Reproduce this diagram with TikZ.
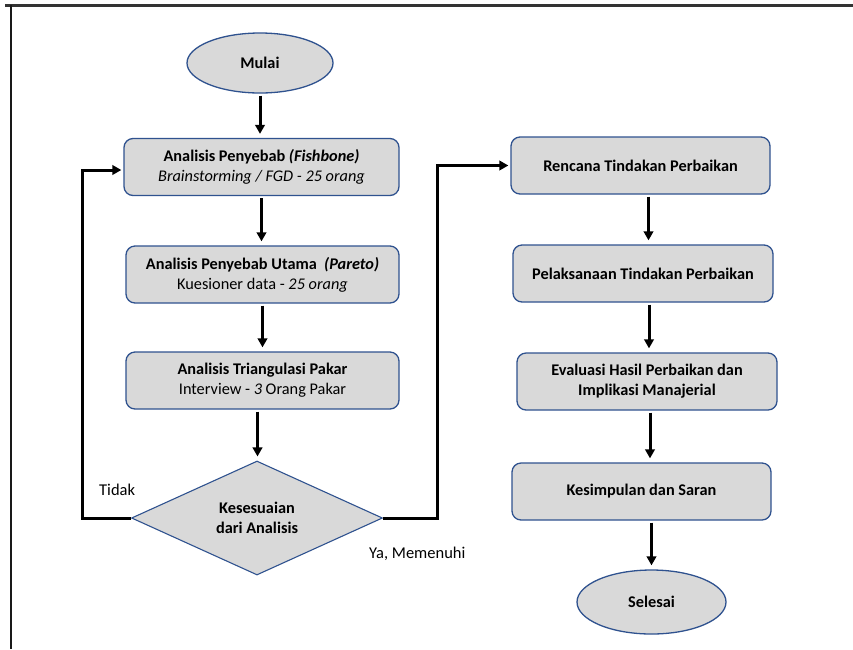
\documentclass[tikz,border=0pt]{standalone}
\usepackage{fontspec}
\setmainfont{Carlito}
\usetikzlibrary{shapes.geometric,arrows.meta}
\definecolor{boxblue}{RGB}{47,82,143}
\definecolor{boxfill}{RGB}{217,217,217}
\tikzset{
  procbox/.style={draw=boxblue, line width=1.3pt, fill=boxfill, rounded corners=9pt,
    minimum height=57pt, align=center, inner sep=2pt, font=\fontsize{16.3}{20}\selectfont},
  termnode/.style={ellipse, draw=boxblue, line width=1.3pt, fill=boxfill, inner sep=0pt,
    font=\fontsize{16.3}{20}\selectfont\bfseries},
  decnode/.style={diamond, draw=boxblue, line width=1.1pt, fill=boxfill, inner sep=0pt,
    aspect=2.2, minimum width=251pt, minimum height=114pt, align=center,
    font=\fontsize{16.3}{20}\selectfont\bfseries},
  arr/.style={line width=3pt, -{Triangle[length=9pt,width=9.5pt]}, shorten <=2pt, shorten >=4pt},
  loopline/.style={line width=3pt, -{Triangle[length=9pt,width=9.5pt]}, shorten >=2pt},
  lbl/.style={font=\fontsize{16.5}{18}\selectfont, inner sep=0pt},
}
\begin{document}
\begin{tikzpicture}[x=1pt,y=-1pt]
\useasboundingbox (0,0) rectangle (853,649);
% frame
\draw[black!80, line width=3pt] (5,5) -- (853,5);
\draw[black!90, line width=2.4pt] (11,5) -- (11,649);
% left column
\node[termnode, minimum width=146pt, minimum height=60pt] (m) at (260,63) {Mulai};
\node[procbox, minimum width=275pt] (b1) at (261.5,167)
  {\textbf{Analisis Penyebab \textit{(Fishbone)}}\\\textit{Brainstorming / FGD - 25 orang}};
\node[procbox, minimum width=273pt] (b2) at (262.5,274.5)
  {\textbf{Analisis Penyebab Utama \ \textit{(Pareto)}}\\Kuesioner data - \textit{25 orang}};
\node[procbox, minimum width=273pt] (b3) at (262.5,380.5)
  {\textbf{Analisis Triangulasi Pakar}\\Interview - \textit{3} Orang Pakar};
\node[decnode] (d) at (257,518) {Kesesuaian\\dari Analisis};
% right column
\node[procbox, minimum width=259pt] (r1) at (640.5,165.5) {\textbf{Rencana Tindakan Perbaikan}};
\node[procbox, minimum width=260pt] (r2) at (643,273.5) {\textbf{Pelaksanaan Tindakan Perbaikan}};
\node[procbox, minimum width=260pt] (r3) at (647,381.5)
  {\textbf{Evaluasi Hasil Perbaikan dan}\\\textbf{Implikasi Manajerial}};
\node[procbox, minimum width=259pt] (r4) at (641.5,491.5) {\textbf{Kesimpulan dan Saran}};
\node[termnode, minimum width=149pt, minimum height=64pt] (s) at (651.5,602) {Selesai};
% labels
\node[lbl, anchor=west] (tidak) at (99,490) {Tidak};
\node[lbl, anchor=west] (ya) at (369,554) {Ya, Memenuhi};
% arrows left
\draw[arr] (m.south) -- (m.south |- b1.north);
\draw[arr] (b1.south) -- (b1.south |- b2.north);
\draw[arr] (b2.south) -- (b2.south |- b3.north);
\draw[arr] ([xshift=-5pt]b3.south) -- ([xshift=-5pt]b3.south |- d.north);
% arrows right
\draw[arr] ([xshift=8pt]r1.south) -- ([xshift=8pt]r1.south |- r2.north);
\draw[arr] ([xshift=6pt]r2.south) -- ([xshift=6pt]r2.south |- r3.north);
\draw[arr] ([xshift=3pt]r3.south) -- ([xshift=3pt]r3.south |- r4.north);
\draw[arr] ([xshift=10pt]r4.south) -- ([xshift=10pt]r4.south |- s.north);
% loops
\coordinate (lc) at (82,518);
\coordinate (rc) at (437,518);
\draw[loopline] (d.west) -- (lc) |- ([yshift=-3pt]b1.west);
\draw[loopline] (d.east) -- (rc) |- (r1.west);
\end{tikzpicture}
\end{document}
